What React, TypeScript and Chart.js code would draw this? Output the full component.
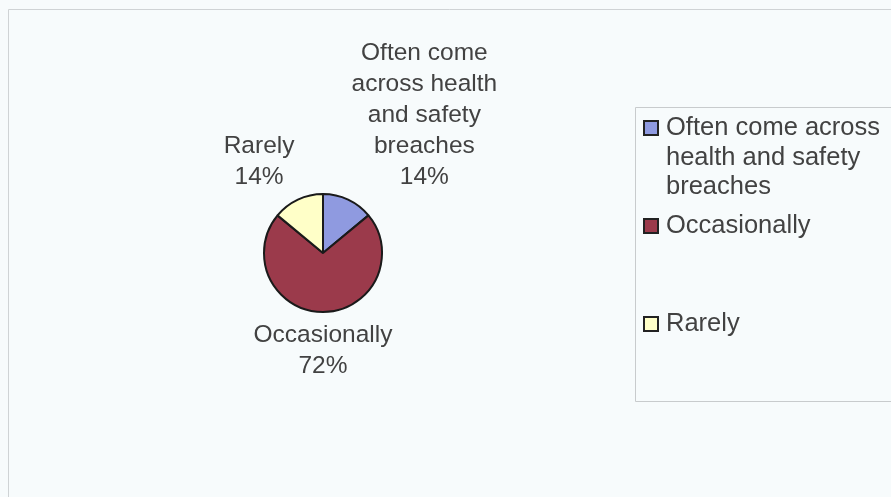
import React, { useEffect, useRef } from "react";
import { Chart, registerables } from "chart.js";

Chart.register(...registerables);

const categories = ["Often come across health and safety breaches", "Occasionally", "Rarely"];
const values = [14, 72, 14];
const sliceColors = ["#8F9AE0", "#9B3A4B", "#FFFFC8"];

const FONT = '"Liberation Sans", Arial, sans-serif';
const TEXT_COLOR = "#424242";

function wrap(ctx: CanvasRenderingContext2D, text: string, maxW: number): string[] {
  const words = text.split(" ");
  const lines: string[] = [];
  let cur = "";
  for (const w of words) {
    const t = cur ? cur + " " + w : w;
    if (cur && ctx.measureText(t).width > maxW) {
      lines.push(cur);
      cur = w;
    } else cur = t;
  }
  if (cur) lines.push(cur);
  return lines;
}

const backgroundPlugin = {
  id: "bgFrame",
  beforeDraw(chart: any) {
    const ctx = chart.ctx as CanvasRenderingContext2D;
    const W = chart.width, H = chart.height;
    ctx.save();
    ctx.fillStyle = "#f7fbfc";
    ctx.fillRect(0, 0, W, H);
    ctx.strokeStyle = "#cfd3d5";
    ctx.lineWidth = 1;
    ctx.beginPath();
    ctx.moveTo(8.5, H);
    ctx.lineTo(8.5, 9.5);
    ctx.lineTo(W, 9.5);
    ctx.stroke();
    ctx.restore();
  },
};

const labelPlugin = {
  id: "sliceLabels",
  afterDatasetsDraw(chart: any) {
    const ctx = chart.ctx as CanvasRenderingContext2D;
    const meta = chart.getDatasetMeta(0);
    const data = chart.data.datasets[0].data as number[];
    const total = data.reduce((a, b) => a + b, 0);
    const lh = 31;
    ctx.save();
    ctx.font = `24.5px ${FONT}`;
    ctx.fillStyle = TEXT_COLOR;
    ctx.textBaseline = "middle";
    ctx.textAlign = "center";
    meta.data.forEach((arc: any, i: number) => {
      const p = arc.getProps(["x", "y", "startAngle", "endAngle", "outerRadius"], true);
      const mid = (p.startAngle + p.endAngle) / 2;
      const r = p.outerRadius + 8;
      const ax = p.x + Math.cos(mid) * r;
      const ay = p.y + Math.sin(mid) * r;
      const pct = Math.round((data[i] / total) * 100) + "%";
      const lines = [...wrap(ctx, chart.data.labels[i], 152), pct];
      const bw = Math.max(...lines.map((l) => ctx.measureText(l).width));
      const bh = lines.length * lh;
      const c = Math.cos(mid), s = Math.sin(mid);
      let cx = ax;
      if (c > 0.1) cx = ax + bw / 2;
      else if (c < -0.1) cx = ax - bw / 2;
      let top = ay - bh / 2;
      if (s < -0.1) top = ay - bh;
      else if (s > 0.1) top = ay;
      lines.forEach((l, k) => ctx.fillText(l, cx, top + lh * k + lh / 2));
    });
    ctx.restore();
  },
};

const legendPlugin = {
  id: "customLegend",
  afterDraw(chart: any) {
    const ctx = chart.ctx as CanvasRenderingContext2D;
    const W = chart.width;
    const boxL = 635.5, boxT = 107.5, boxB = 401.5;
    ctx.save();
    ctx.strokeStyle = "#c8cbcd";
    ctx.lineWidth = 1;
    ctx.beginPath();
    ctx.moveTo(W + 2, boxT);
    ctx.lineTo(boxL, boxT);
    ctx.lineTo(boxL, boxB);
    ctx.lineTo(W + 2, boxB);
    ctx.stroke();

    ctx.font = `25.5px ${FONT}`;
    ctx.textBaseline = "middle";
    ctx.textAlign = "left";
    const labels = chart.data.labels as string[];
    const colors = chart.data.datasets[0].backgroundColor as string[];
    const pitch = 98, lh = 29.5, firstY = 128;
    labels.forEach((lab, i) => {
      const y0 = firstY + i * pitch;
      ctx.fillStyle = colors[i];
      ctx.fillRect(644, y0 - 7, 14, 14);
      ctx.strokeStyle = "#222";
      ctx.lineWidth = 2;
      ctx.strokeRect(644, y0 - 7, 14, 14);
      ctx.fillStyle = TEXT_COLOR;
      const lines = wrap(ctx, lab, 222);
      lines.forEach((l, k) => ctx.fillText(l, 666, y0 + k * lh));
    });
    ctx.restore();
  },
};

export default function App() {
  const ref = useRef<HTMLCanvasElement | null>(null);
  useEffect(() => {
    if (!ref.current) return;
    const chart = new Chart(ref.current, {
      type: "pie",
      data: {
        labels: categories,
        datasets: [
          {
            data: values,
            backgroundColor: sliceColors,
            borderColor: "#1a1a1a",
            borderWidth: 2,
          },
        ],
      },
      options: {
        responsive: false,
        animation: false,
        layout: { padding: { left: 263, right: 508, top: 193, bottom: 184 } },
        plugins: {
          legend: { display: false },
          tooltip: { enabled: false },
          title: { display: false },
        },
      },
      plugins: [backgroundPlugin, labelPlugin, legendPlugin],
    });
    return () => chart.destroy();
  }, []);
  return (
    <div style={{ position: "absolute", left: 0, top: 0, width: 891, height: 497, background: "#f7fbfc" }}>
      <canvas ref={ref} width={891} height={497} style={{ display: "block" }} />
    </div>
  );
}
